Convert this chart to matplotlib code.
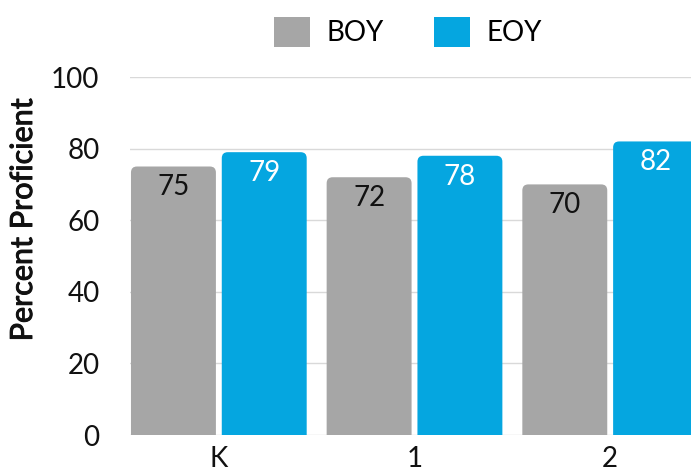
import matplotlib
matplotlib.use("Agg")
import matplotlib.pyplot as plt
from matplotlib.patches import FancyBboxPatch, Patch
import matplotlib.patheffects as pe
import numpy as np

grades = ["K", "1", "2"]
boy = [75, 72, 70]
eoy = [79, 78, 82]

plt.rcParams['font.family'] = ['Lato', 'DejaVu Sans']

gray = "#A6A6A6"
blue = "#05A6E0"

fig = plt.figure(figsize=(6.91, 4.74), dpi=100)
ax = fig.add_axes([130/691, 1-435/474, 1-130/691, (435-77)/474])
ax.set_xlim(-0.454, 2.413)
ax.set_ylim(0, 100)

x = np.arange(len(grades))
w = 0.434
gap = 0.03

# px -> data conversion for rounded corners
xpp = (2.413 + 0.454) / (691 - 130)
ypp = 100 / (435 - 77)
r = 6 * xpp
aspect = ypp / xpp

def rbar(xc, h, color):
    p = FancyBboxPatch((xc - w/2, -r*aspect*2), w, h + r*aspect*2,
                       boxstyle="round,pad=0,rounding_size=%f" % r,
                       mutation_aspect=aspect, fc=color, ec="none",
                       zorder=3, clip_on=True)
    ax.add_patch(p)

for i in range(len(grades)):
    xb = x[i] - (w + gap)/2
    xe = x[i] + (w + gap)/2
    rbar(xb, boy[i], gray)
    rbar(xe, eoy[i], blue)
    ax.text(xb, boy[i] - 5.8, str(boy[i]), ha="center", va="center",
            fontsize=20, color="#111111", zorder=4)
    ax.text(xe, eoy[i] - 5.8, str(eoy[i]), ha="center", va="center",
            fontsize=20, color="white", zorder=4)

ax.set_yticks([0, 20, 40, 60, 80, 100])
ax.set_xticks(x)
ax.set_xticklabels(grades)
ax.tick_params(axis="both", length=0, labelsize=20, colors="#111111")
ax.tick_params(axis="y", pad=22)
ax.tick_params(axis="x", pad=8)
ax.yaxis.grid(True, color="#D9D9D9", linewidth=1, zorder=0)
ax.set_axisbelow(True)
for s in ax.spines.values():
    s.set_visible(False)
yl = ax.set_ylabel("Percent Proficient", fontsize=22, color="#111111")
yl.set_path_effects([pe.withStroke(linewidth=0.7, foreground="#111111")])
ax.yaxis.set_label_coords(-93/561, 0.60)

# legend
handles = [Patch(fc=gray, ec="none", label="BOY"), Patch(fc=blue, ec="none", label="EOY")]
fig.legend(handles=handles, loc="center", bbox_to_anchor=(408/691, 1-32/474),
           ncol=2, frameon=False, fontsize=20, handlelength=1.3, handleheight=1.3,
           handletextpad=0.6, columnspacing=1.8)

fig.savefig("out.png", dpi=100)
